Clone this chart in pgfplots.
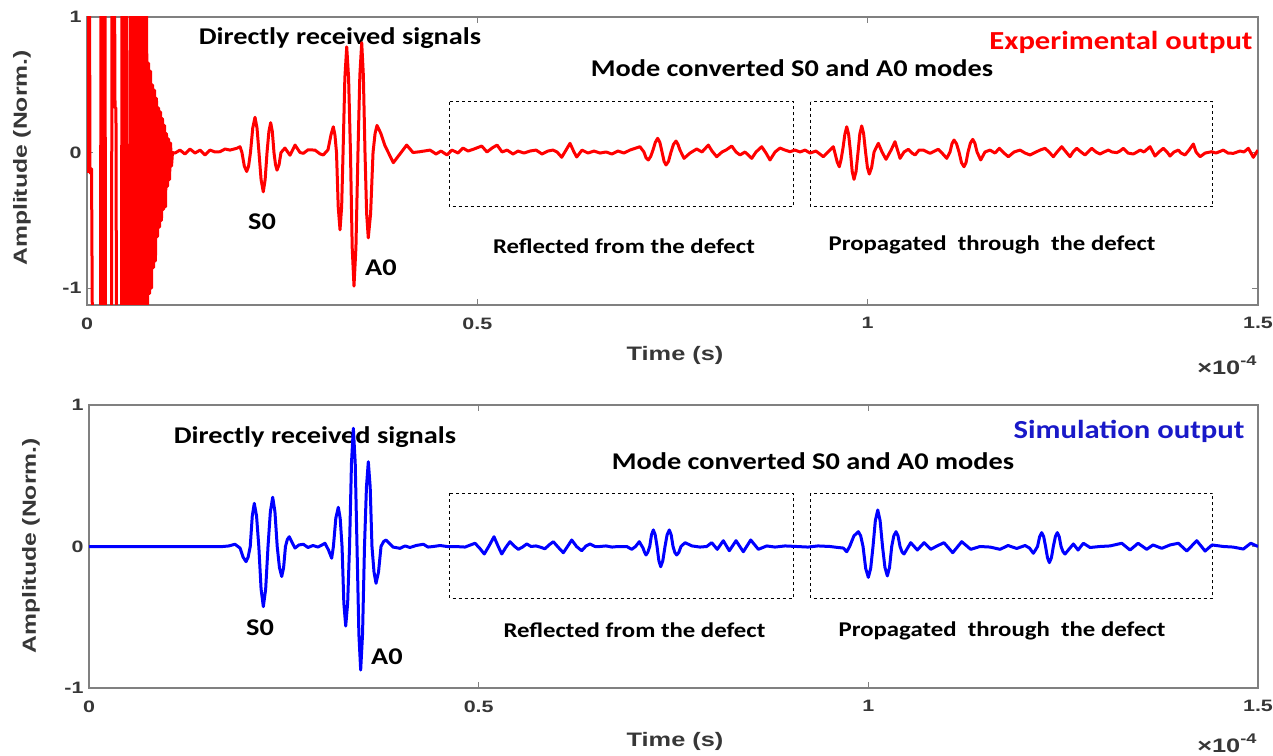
\documentclass[border=0pt]{standalone}
\usepackage{fontspec}
\setmainfont{Liberation Sans}
\newfontfamily\axfont{Liberation Sans}[FakeStretch=1.3]
\newfontfamily\anfont{Carlito}[FakeStretch=1.18]
\usepackage{pgfplots}
\pgfplotsset{compat=1.18}
\definecolor{axgray}{RGB}{128,128,128}
\definecolor{tickgray}{RGB}{55,55,55}
\definecolor{simblue}{RGB}{0,0,255}
\definecolor{simtext}{RGB}{25,25,200}
\newcommand\an[1]{\anfont\bfseries\fontsize{#1}{#1}\selectfont}
\newcommand\ax{\axfont\bfseries\fontsize{19.5}{21}\selectfont}
\newcommand\tk{\axfont\bfseries\fontsize{16.5}{18}\selectfont}
\pgfplotsset{sig/.style={scale only axis, anchor=south west, xmin=0, xmax=150,
  xtick={0,50,100,150}, xticklabels={0,0.5,1,1.5}, ytick={-1,0,1}, yticklabels={-1,0,1},
  tick align=inside, major tick length=6pt,
  axis line style={axgray, line width=1.3pt}, tick style={axgray, line width=1pt},
  tick label style={font=\tk, text=tickgray},
  xticklabel style={yshift=-9pt}, yticklabel style={xshift=-2pt}}}
\begin{document}
\begin{tikzpicture}[x=1pt,y=1pt]
\path[use as bounding box] (0,0) rectangle (1273,755);
% ---- annotations top
\node[font=\an{24}] at (340,717) {Directly received signals};
\node[font=\an{24}] at (792,687) {Mode converted S0 and A0 modes};
\node[font=\an{26}, text=red] at (1121,713) {Experimental output};
\node[font=\an{24}] at (262,533) {S0};
\node[font=\an{24}] at (381,487) {A0};
\node[font=\an{21}] at (624,509) {Reflected from the defect};
\node[font=\an{21}] at (992,510) {Propagated\ \ through\ \ the defect};
\draw[dash pattern=on 3pt off 3pt, line width=0.9pt] (449.5,653.3) rectangle (793.3,548.3);
\draw[dash pattern=on 3pt off 3pt, line width=0.9pt] (810.7,653.3) rectangle (1212.7,548.3);
\node[font=\ax, text=tickgray] at (675,400) {Time (s)};
\node[font=\ax, text=tickgray, anchor=east] at (1260,390) {×10\raisebox{0.45em}{\fontsize{14}{14}\selectfont -4}};
\node[font=\axfont\bfseries\fontsize{19}{21}\selectfont, text=tickgray, rotate=90] at (22,597) {Amplitude (Norm.)};
% ---- annotations bottom
\node[font=\an{24}] at (315,318) {Directly received signals};
\node[font=\an{24}] at (813,294) {Mode converted S0 and A0 modes};
\node[font=\an{26}, text=simtext] at (1129,324) {Simulation output};
\node[font=\an{24}] at (260,127) {S0};
\node[font=\an{24}] at (387,98) {A0};
\node[font=\an{21}] at (634.5,125) {Reflected from the defect};
\node[font=\an{21}] at (1002,124) {Propagated\ \ through\ \ the defect};
\draw[dash pattern=on 3pt off 3pt, line width=0.9pt] (449.5,261.7) rectangle (793.3,156.7);
\draw[dash pattern=on 3pt off 3pt, line width=0.9pt] (810.7,261.7) rectangle (1212.7,156.7);
\node[font=\ax, text=tickgray] at (675,14) {Time (s)};
\node[font=\ax, text=tickgray, anchor=east] at (1260,12) {×10\raisebox{0.45em}{\fontsize{14}{14}\selectfont -4}};
\node[font=\axfont\bfseries\fontsize{19}{21}\selectfont, text=tickgray, rotate=90] at (31,209) {Amplitude (Norm.)};
% ---- top axis
\begin{axis}[sig, at={(87pt,450pt)}, width=1171pt, height=288pt, ymin=-1.125, ymax=1]
\addplot[red, line width=3pt, line join=round] coordinates {
(0,-0.15)(0.19,1.4)(0.32,1.4)(0.38,-0.15)(0.58,-0.12)(0.70,-1.4)(1.73,-1.4)(1.79,1.4)(1.98,1.4)(2.05,-1.4)(2.18,-1.4)(2.24,1.4)(2.31,1.4)(2.37,-1.4)(3.14,-1.4)(3.20,1.4)(3.52,1.4)(3.59,0.33)(3.71,0.33)(3.78,-1.4)(4.42,-1.4)(4.48,1.4)(4.70,1.4)(4.76,-1.4)(4.90,-1.4)(4.96,1.4)(5.06,1.4)(5.12,-1.4)
(5.44,-1.4)(5.57,1.4)(5.70,-1.4)(5.83,1.4)(5.96,-1.4)(6.08,1.4)(6.21,-1.4)(6.34,1.4)(6.47,-1.4)(6.60,1.4)(6.73,-1.4)(6.85,1.4)(6.98,-1.4)(7.11,1.4)(7.24,-1.4)(7.37,1.4)(7.50,-1.4)(7.62,1.4)(7.75,-1.2)(7.88,0.66)(8.01,-1.04)(8.14,0.6)(8.27,-1.0)(8.39,0.5)(8.52,-0.85)(8.65,0.46)(8.77,-0.8)(8.90,0.4)(9.03,-0.62)(9.16,0.33)(9.29,-0.55)(9.42,0.3)(9.54,-0.5)(9.67,0.25)(9.80,-0.42)(9.93,0.2)(10.06,-0.4)(10.18,0.14)(10.31,-0.25)(10.44,0.1)(10.57,-0.2)(10.70,0.07)(10.83,-0.1)(10.95,0.0)
(11.27,-0.004)(11.91,0.018)(12.55,-0.011)(13.19,0.026)(13.84,-0.004)(14.48,0.018)(15.12,-0.018)(15.76,0.018)(16.40,0.004)(17.04,0.006)(17.68,0.026)(18.32,0.018)(19.18,0.031)(19.60,0.043)
(19.85,0.0)(20.15,-0.1)(20.46,-0.14)(20.70,-0.1)(20.94,0.0)(21.23,0.18)(21.52,0.26)(21.78,0.18)(22.03,0.0)(22.30,-0.2)(22.58,-0.29)(22.82,-0.2)(23.06,0.0)(23.30,0.155)(23.53,0.22)(23.74,0.155)(23.95,0.0)(24.15,-0.09)(24.34,-0.13)(24.60,-0.09)(24.85,0.0)
(25.36,0.033)(26.00,-0.02)(26.65,0.055)(27.29,0.0)(27.71,-0.006)(28.31,0.02)(29.21,0.018)(29.85,-0.01)(30.27,-0.018)(30.87,0.02)
(31.25,0.13)(31.55,0.19)(31.76,0.13)(31.96,0.0)(32.18,-0.4)(32.41,-0.57)(32.62,-0.4)(32.80,0.0)(33.03,0.55)(33.27,0.78)(33.51,0.55)(33.75,0.0)(33.97,-0.7)(34.20,-0.985)(34.45,-0.7)(34.71,0.0)(34.95,0.57)(35.19,0.81)(35.40,0.57)(35.61,0.0)(35.82,-0.45)(36.03,-0.63)(36.33,-0.45)(36.64,0.0)(36.90,0.14)(37.15,0.2)(37.65,0.14)(38.17,0.05)(39.24,-0.075)(40.10,-0.01)(40.95,0.055)(41.76,0.0)(42.66,0.006)
(43.94,0.018)(44.71,-0.011)(45.35,0.011)(46.12,-0.018)(46.76,0.018)(47.53,-0.004)(48.17,0.033)(48.81,0.011)(49.58,0.026)(50.56,0.048)(51.24,0.004)(51.88,0.033)(52.53,0.055)(53.17,0.004)(53.81,0.018)(54.57,-0.011)(55.22,0.011)(55.98,-0.004)(56.75,0.011)(57.52,0.018)(58.29,-0.011)(59.05,0.011)(59.69,0.018)(60.21,0.004)(60.81,-0.035)(61.36,0.018)(61.87,0.068)(62.38,0.004)(62.73,-0.033)(63.41,0.018)(64.18,-0.004)(64.94,0.011)(65.71,-0.004)(66.48,0.004)(67.25,-0.011)(68.01,0.011)(68.78,-0.004)(69.55,0.018)(70.31,0.033)(70.83,0.043)(71.34,0.004)
(71.62,-0.04)(71.90,-0.055)(72.20,-0.03)(72.50,0.018)(72.80,0.075)(73.10,0.105)(73.38,0.075)(73.66,0.004)(73.92,-0.065)(74.17,-0.092)(74.49,-0.065)(74.81,0.004)(75.13,0.06)(75.45,0.085)(75.70,0.06)(75.96,0.018)
(76.48,-0.043)(77.24,-0.004)(78.10,0.026)(78.78,0.004)(79.59,0.055)(80.06,0.011)(80.66,-0.031)(81.34,0.004)(81.85,0.018)(82.59,0.048)(83.14,0.004)(83.65,-0.018)(84.29,0.004)(85.15,-0.043)(85.70,0.004)(86.43,0.043)(86.98,-0.004)(87.49,-0.055)(88.14,0.004)(88.77,0.033)(89.41,0.018)(90.05,0.006)(90.69,0.018)(91.34,0.004)(91.98,0.018)(92.62,-0.004)(93.38,0.011)(94.32,-0.031)(94.92,0.004)(95.60,0.043)
(96.10,-0.07)(96.37,-0.105)(96.60,-0.05)(96.84,0.033)(97.08,0.135)(97.32,0.19)(97.56,0.135)(97.80,0.004)(98.02,-0.14)(98.25,-0.198)(98.51,-0.14)(98.77,0.004)(99.00,0.14)(99.24,0.196)(99.48,0.14)(99.73,0.004)(99.97,-0.11)(100.21,-0.159)(100.51,-0.11)(100.82,0.004)
(101.37,0.068)(101.84,0.004)(102.35,-0.05)(103.00,0.018)(103.50,0.08)(104.15,-0.043)(104.66,0.004)(105.21,0.024)(105.68,-0.004)(106.07,-0.018)(106.58,0.018)(107.13,0.018)(107.99,-0.006)(109.05,0.024)(109.53,-0.004)(110.13,-0.043)(110.55,0.004)
(110.80,0.065)(111.06,0.092)(111.38,0.065)(111.70,0.004)(112.02,-0.075)(112.34,-0.105)(112.60,-0.075)(112.86,0.004)(113.16,0.07)(113.46,0.097)(113.73,0.07)(114.01,0.004)
(114.48,-0.055)(115.03,0.004)(115.67,0.018)(116.31,-0.004)(116.87,0.031)(117.47,-0.004)(118.02,-0.031)(118.75,0.004)(119.52,0.018)(120.16,-0.004)(120.80,-0.018)(121.57,0.004)(122.08,0.018)(122.72,0.031)(123.23,0.004)(123.78,-0.031)(124.26,0.004)(124.86,0.043)(125.41,0.004)(125.92,-0.031)(126.31,0.004)(126.78,0.031)(127.33,0.004)(127.84,-0.018)(128.23,0.004)(128.70,0.031)(129.25,0.004)(129.77,-0.011)(130.28,0.004)(130.83,0.018)(131.30,0.004)(131.91,-0.001)(132.32,0.011)(132.75,0.031)(133.35,-0.004)(134.03,-0.011)(134.50,0.004)(134.89,0.018)(135.40,0.004)(136.17,0.043)(136.81,-0.026)(137.32,0.004)(137.87,0.031)(138.35,0.004)(138.73,-0.026)(139.25,0.004)(139.80,0.018)(140.14,-0.004)(140.65,-0.018)(141.17,0.018)(141.72,0.063)(142.06,0.004)(142.58,-0.031)(143.22,-0.004)(144.07,0.006)(144.62,-0.004)(145.56,0.018)(146.16,-0.004)(146.84,-0.006)(147.70,0.011)(148.21,0.004)(148.76,0.031)(149.40,-0.035)(150.0,0.018)
};
\end{axis}
% ---- bottom axis
\begin{axis}[sig, at={(89pt,67pt)}, width=1169pt, height=283pt, ymin=-1, ymax=1]
\addplot[simblue, line width=3pt, line join=round] coordinates {
(0,0)(17.19,0)(17.96,0.004)(18.73,0.016)(19.38,-0.011)(19.77,-0.075)(20.15,-0.107)(20.42,-0.075)(20.69,0)(20.95,0.215)(21.21,0.305)(21.50,0.215)(21.79,0)(22.08,-0.3)(22.37,-0.425)(22.67,-0.3)(22.97,0)(23.27,0.245)(23.57,0.348)(23.86,0.245)(24.15,0)(24.44,-0.15)(24.73,-0.212)(24.97,-0.15)(25.21,0)(25.45,0.05)(25.70,0.069)(26.05,0.03)(26.43,-0.011)
(26.95,0.011)(27.50,0.016)(28.10,-0.007)(28.74,0.007)(29.39,-0.004)(29.90,0.011)(30.28,0.023)(30.73,-0.025)
(31.14,-0.083)(31.36,0.0)(31.67,0.2)(31.99,0.277)(32.23,0.2)(32.47,0)(32.70,-0.4)(32.94,-0.562)(33.19,-0.4)(33.43,0)(33.68,0.59)(33.92,0.835)(34.16,0.59)(34.39,0)(34.63,-0.62)(34.86,-0.873)(35.10,-0.62)(35.35,0)(35.60,0.42)(35.84,0.599)(36.08,0.42)(36.31,0)(36.57,-0.18)(36.83,-0.26)(37.15,-0.18)(37.47,0)(37.80,0.035)(38.11,0.046)
(39.01,-0.004)(39.91,-0.013)(40.55,0.004)(41.19,-0.007)(41.96,0.007)(42.90,0.016)(43.50,-0.004)(44.18,0)(45.04,0.007)(45.94,0)
(46.97,0)(48.25,-0.004)(49.53,0.023)(50.11,-0.011)(50.72,-0.053)(51.33,0.004)(51.97,0.069)(52.48,0.004)(52.96,-0.053)(53.51,-0.004)(54.02,0.034)(54.54,0.004)(55.09,-0.02)(55.63,-0.004)(56.17,0.018)(56.72,0)(57.36,0.004)(57.87,-0.004)(58.51,-0.016)(59.03,0.011)(59.58,0.034)(60.18,-0.004)(60.86,-0.044)(61.40,0)(61.94,0.046)(62.56,0)(63.22,-0.03)(63.78,0.004)(64.29,0.018)(64.93,0)(65.57,0)(66.34,0.004)(67.11,-0.004)(67.88,0)(69.00,0)(69.64,-0.02)(70.13,0)(70.61,0.034)(71.09,-0.011)
(71.28,-0.04)(71.47,-0.06)(71.71,-0.04)(71.95,0)(72.18,0.083)(72.41,0.117)(72.65,0.083)(72.89,0)(73.12,-0.1)(73.36,-0.143)(73.63,-0.1)(73.91,0)(74.18,0.083)(74.46,0.117)(74.70,0.083)(74.94,0)(75.17,-0.042)(75.41,-0.06)(75.68,-0.042)(75.96,0)
(76.48,0.027)(77.37,0.004)(78.40,-0.004)(79.26,0)(79.90,0.027)(80.62,-0.02)(81.39,0.041)(82.16,-0.03)(83.02,0.041)(83.96,-0.037)(84.91,0.046)(85.89,-0.02)(86.96,0.004)(88.03,-0.004)(89.31,0.004)(90.81,0)(92.26,-0.004)(93.54,0.004)(95.08,0)(96.11,-0.007)(96.79,-0.011)(97.23,-0.037)
(97.60,0)(98.15,0.075)(98.72,0.105)(99.02,0.075)(99.32,0)(99.66,-0.155)(100.00,-0.218)(100.30,-0.155)(100.60,0)(100.90,0.183)(101.21,0.258)(101.51,0.183)(101.82,0)(102.13,-0.148)(102.44,-0.208)(102.72,-0.148)(103.00,0)(103.27,0.075)(103.55,0.105)(103.81,0.075)(104.07,0)(104.32,-0.038)(104.58,-0.053)
(105.44,0.027)(106.29,-0.025)(107.15,0.027)(108.01,-0.02)(108.82,0.004)(109.71,0.027)(110.83,-0.044)(111.98,0.034)(113.14,-0.02)(114.33,0)(115.62,-0.004)(116.90,-0.02)(117.93,0.007)(119.04,-0.014)(120.11,0.007)(120.68,-0.011)(121.17,-0.048)
(121.44,-0.025)(121.71,0)(121.98,0.07)(122.25,0.098)(122.50,0.07)(122.74,0)(122.99,-0.08)(123.23,-0.114)(123.49,-0.08)(123.74,0)(124.00,0.07)(124.25,0.098)(124.49,0.07)(124.73,0)(124.99,-0.038)(125.24,-0.053)
(126.31,0.018)(126.91,-0.025)(127.59,0.023)(128.45,-0.007)(129.73,0)(131.02,0.004)(132.52,0.023)(133.58,-0.025)(134.61,0.023)(135.72,-0.02)(136.53,0.011)(137.65,-0.013)(138.72,0.011)(139.78,0.023)(140.86,-0.032)(142.14,0.041)(143.21,-0.032)(144.10,0.011)(145.56,0)(146.80,-0.004)(148.12,-0.018)(149.07,0.023)(150.0,0)
};
\end{axis}
\end{tikzpicture}
\end{document}
